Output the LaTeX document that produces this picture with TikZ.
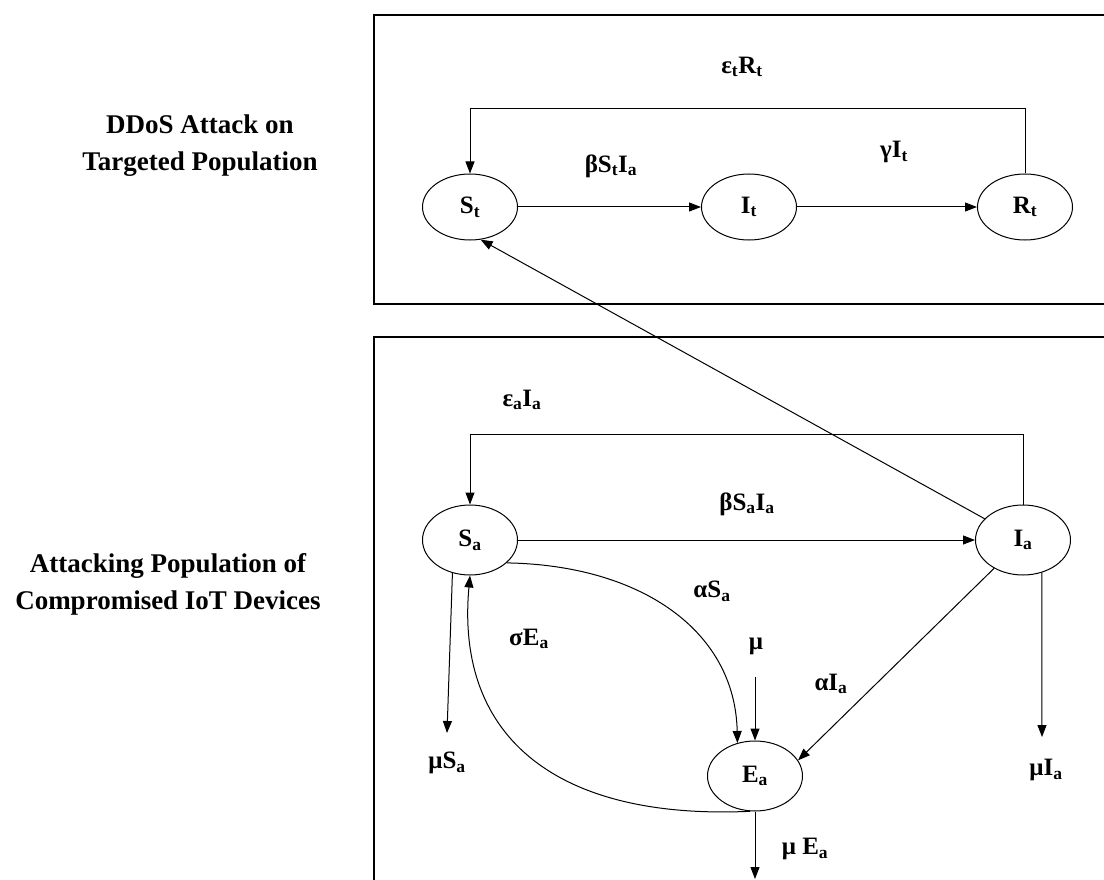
\documentclass[tikz,border=0pt]{standalone}
\usepackage{fontspec}
\setmainfont{Liberation Serif}
\usetikzlibrary{arrows.meta,shapes.geometric}
\newcommand\subs[1]{\textsubscript{#1}}
\begin{document}
\begin{tikzpicture}[x=1pt,y=-1pt,
  state/.style={draw,ellipse,minimum width=95pt,minimum height=66pt,inner sep=0pt,line width=1pt,font=\fontsize{25}{28}\selectfont\bfseries},
  statea/.style={state,minimum height=70pt},
  lbl/.style={font=\fontsize{25}{28}\selectfont\bfseries,inner sep=0pt},
  side/.style={font=\fontsize{27}{37}\selectfont\bfseries,align=center,inner sep=0pt},
  flow/.style={line width=1pt,-{Triangle[length=12pt,width=9pt]}},
  frame/.style={line width=1.6pt}]
\clip (0,0) rectangle (1104,880);
\fill[white] (0,0) rectangle (1104,880);
% frames
\draw[frame] (1110,15) -- (374,15) -- (374,304) -- (1110,304);
\draw[frame] (1110,337) -- (374,337) -- (374,890);
% side labels
\node[side] (top) at (200,146) {DDoS Attack on\\Targeted Population};
\node[side] (bot) at (168,584) {Attacking Population of\\Compromised IoT Devices};
% targeted population
\node[state] (St) at (470,207) {S\subs{t}};
\node[state] (It) at (749,207) {I\subs{t}};
\node[state] (Rt) at (1025,207) {R\subs{t}};
% attacking population
\node[statea] (Sa) at (470,540) {S\subs{a}};
\node[statea] (Ia) at (1023,540) {I\subs{a}};
\node[statea] (Ea) at (755,776) {E\subs{a}};
% free ends
\coordinate (muSaEnd) at (447,733);
\coordinate (muIaEnd) at (1042,737);
\coordinate (muIn) at (755,677);
\coordinate (EaOut) at (755,879);
% top edges
\draw[flow] (St) -- (It);
\draw[flow] (It) -- (Rt);
\draw[flow] (Rt.north) -- ++(0,-65) -| (St.north);
\draw[flow] (Ia) -- (St.-72);
% bottom edges
\draw[flow] (Ia.north) -- ++(0,-70) -| (Sa.north);
\draw[flow] (Sa) -- (Ia);
\draw[flow] (Sa.-32) .. controls (640,565) and (735,630) .. (Ea.118);
\draw[flow] (Ea.262) .. controls (560,820) and (455,740) .. (Sa.south);
\draw[flow] (Sa.-118) -- (muSaEnd);
\draw[flow] (Ia.-60) -- (muIaEnd);
\draw[flow] (muIn) -- (Ea.north);
\draw[flow] (Ea.south) -- (EaOut);
\draw[flow] (Ia) -- (Ea.20);
% labels
\node[lbl] (l1) at (742,67) {ε\subs{t}R\subs{t}};
\node[lbl] (l2) at (611,166) {βS\subs{t}I\subs{a}};
\node[lbl] (l3) at (894,152) {γI\subs{t}};
\node[lbl] (l4) at (522,400) {ε\subs{a}I\subs{a}};
\node[lbl] (l5) at (747,504) {βS\subs{a}I\subs{a}};
\node[lbl] (l6) at (712,591) {αS\subs{a}};
\node[lbl] (l7) at (529,639) {σE\subs{a}};
\node[lbl] (l8) at (756,646) {μ};
\node[lbl] (l9) at (831,684) {αI\subs{a}};
\node[lbl] (l10) at (447,763) {μS\subs{a}};
\node[lbl] (l11) at (1046,770) {μI\subs{a}};
\node[lbl] (l12) at (805,849) {μ E\subs{a}};
\end{tikzpicture}
\end{document}
